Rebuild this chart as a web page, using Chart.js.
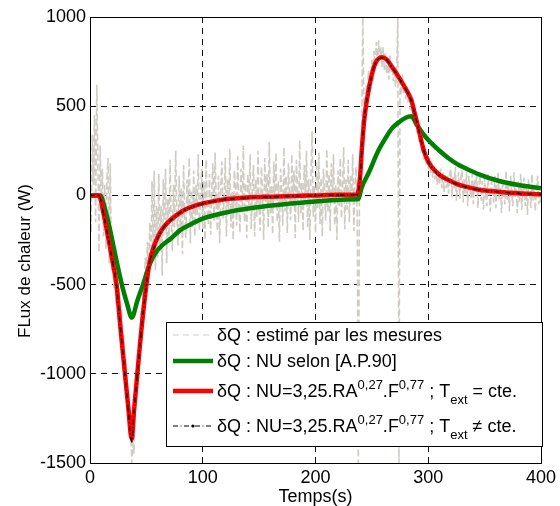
<!DOCTYPE html>
<html>
<head>
<meta charset="utf-8">
<script src="https://cdn.jsdelivr.net/npm/chart.js@4"></script>
<style>
  html, body { margin: 0; padding: 0; background: #fff; }
  #wrap { width: 560px; height: 506px; }
</style>
</head>
<body>
<div id="wrap"><canvas id="chrt" width="560" height="506"></canvas></div>
<script>
// mesures (1 echantillon / s)
const measQ = [
  120, -210, 340, 60, 450, -150, 620, 210, -320, 280,
  -40, 150, -230, 60, -300, 90, 210, -380, 180, -420,
  -250, -520, -330, -610, -450, -700, -520, -820, -640, -900,
  -780, -1050, -920, -1180, -1100, -1320, -1250, -1500, -1380, -1450,
  -1150, -980, -1050, -820, -900, -650, -720, -480, -560, -350,
  -420, -260, -500, -150, -380, 80, -310, 140, -420, -60,
  -350, 120, -280, -60, -450, 90, -200, 150, -380, -20,
  -260, 200, -150, -310, 60, -180, 250, -90, -280, 110,
  -210, 40, -330, 170, -120, -240, 90, -60, 210, -270,
  30, -180, 140, -230, 60, -110, 230, -200, -20, 150,
  -190, 80, -250, 200, -70, -160, 120, -220, 30, 180,
  -140, 240, -60, -200, 110, -270, 50, 190, -130, -20,
  210, -230, 90, -100, 260, -180, 20, -250, 140, 60,
  -170, 220, -40, -210, 150, -90, 280, -150, 70, -240,
  120, -60, 230, -190, 40, 170, -230, 90, -120, 250,
  -80, -200, 160, 30, -250, 210, -40, 120, -180, 300,
  -110, 60, -220, 190, -30, 240, -150, 80, -260, 150,
  20, -170, 270, -90, 110, -210, 180, -20, -140, 230,
  -60, 140, -240, 200, 40, -150, 310, -100, 70, -200,
  170, -30, 250, -180, 90, -250, 130, 360, -120, 50,
  -210, 190, -70, 240, -160, 100, -230, 150, 20, -140,
  260, -90, 120, -200, 180, -30, 230, -170, 60, -250,
  140, -60, 210, -130, 40, 270, -190, 90, -80, 200,
  -150, 110, -40, 230, -200, 60, 160, -110, -1500, 40,
  180, 350, 1000, 480, 390, 620, 520, 700, 580, 660,
  760, 640, 810, 700, 860, 720, 870, 760, 830, 720,
  830, 700, 800, 680, 760, 650, 790, 690, 740, 640,
  720, 610, 690, 1000, -1500, 640, 560, 680, 570, 620,
  540, 610, 520, 590, 480, 560, 450, 500, 420, 470,
  350, 420, 300, 350, 240, 300, 200, 260, 170, 220,
  150, 210, 120, 190, 100, 170, 90, 150, 60, 140,
  60, 150, 40, 130, 20, 120, 40, 110, 10, 120,
  150, -10, 110, 40, 160, -30, 90, 130, -20, 100,
  140, -40, 90, 10, 130, -60, 110, 30, -20, 120,
  -50, 90, 20, 130, -70, 60, 110, -30, 80, -80,
  100, 0, -60, 120, 20, -90, 80, 40, -40, 110,
  -70, 60, 130, -20, 50, -100, 90, 0, -50, 140,
  -30, 70, -90, 110, 20, -60, 130, -10, 40, -100,
  80, -40, 120, -80, 30, 100, -60, 50, -110, 90,
  10, -70, 120, -30, 60, -90, 40, 110, -50, 20,
  -60
];
const measT = measQ.map((q, i) => i);

// NU selon [A.P.90]
const greenT = [0, 9, 13, 17, 21, 25, 29, 33, 37, 42, 47, 53, 60, 72, 80, 90, 100, 124, 150, 175, 197,
  236, 238, 241, 247, 256, 262, 268, 274, 280, 285, 290, 296, 303, 310, 318, 325, 333, 345, 362, 380, 400];
const greenQ = [0, 0, -70, -170, -290, -410, -520, -610, -685, -590, -500, -385, -306, -240, -195, -160, -130, -91, -65, -48, -35,
  -22, -20, 45, 124, 254, 320, 377, 410, 435, 443, 395, 340, 292, 250, 208, 178, 152, 118, 82, 58, 40];

// NU=3,25.RA^0,27.F^0,77 ; Text = cte
const redT = [0, 8, 12, 16, 20, 23.5, 27, 31, 34, 37, 39, 42, 45, 50, 53, 57, 62, 67, 72, 78, 84, 92, 100, 110, 120,
  140, 160, 180, 200, 220, 237, 239.5, 241, 243.5, 248, 253, 259, 263, 267, 271, 276, 282, 285, 288, 291, 296, 300,
  303, 310, 318, 325, 333, 345, 362, 380, 400];
const redQ = [0, 0, -100, -230, -370, -500, -740, -1000, -1190, -1365, -1210, -1000, -790, -500, -370, -280, -210, -165,
  -135, -105, -80, -60, -45, -32, -22, -12, -7, -3, 0, 3, 5, 100, 250, 440, 620, 740, 775, 762, 728, 692, 640, 575, 535,
  460, 385, 254, 190, 160, 115, 86, 65, 49, 32, 21, 12, 6];

// NU=3,25.RA^0,27.F^0,77 ; Text != cte
const blackT = redT;
const blackQ = [0, 0, -105, -235, -372, -505, -745, -1005, -1200, -1380, -1215, -1005, -792, -502, -372, -290, -212, -166,
  -136, -106, -81, -61, -46, -33, -23, -13, -8, -4, -1, 2, 4, 95, 245, 438, 618, 738, 772, 760, 726, 690, 638, 572, 532,
  458, 382, 252, 188, 158, 113, 85, 64, 48, 31, 20, 11, 5];

const xTicks = [0, 100, 200, 300, 400];
const yTicks = [-1500, -1000, -500, 0, 500, 1000];

const FONT = '"Liberation Sans", Arial, sans-serif';
const GRIS = "rgb(208, 204, 196)";
const VERT = "rgb(0, 128, 0)";
const ROUGE = "rgb(255, 0, 0)";

Chart.defaults.font.family = FONT;
Chart.defaults.font.size = 18;
Chart.defaults.color = "#000";

function pts(ts, qs) {
  return ts.map((t, i) => ({ x: t, y: qs[i] }));
}

// legende avec exposants / indices
const legRows = [
  { kind: "meas", y: 335, parts: [["δQ : estimé par les mesures"]] },
  { kind: "green", y: 361, parts: [["δQ : NU selon [A.P.90]"]] },
  { kind: "red", y: 391, parts: [["δQ : NU=3,25.RA"], ["0,27", "sup"], [".F"], ["0,77", "sup"], [" ; T"], ["ext", "sub"], [" = cte."]] },
  { kind: "black", y: 426, parts: [["δQ : NU=3,25.RA"], ["0,27", "sup"], [".F"], ["0,77", "sup"], [" ; T"], ["ext", "sub"], [" ≠ cte."]] },
];

function drawRich(ctx, x, y, parts) {
  ctx.textBaseline = "middle";
  ctx.textAlign = "left";
  for (const [txt, kind] of parts) {
    ctx.font = (kind ? "13px " : "18px ") + FONT;
    let dy = 0;
    if (kind == "sup") dy = -7;
    if (kind == "sub") dy = 8;
    ctx.fillText(txt, x, y + 1 + dy);
    x += ctx.measureText(txt).width;
  }
}

function sample(ctx, kind, y) {
  const x0 = 173, x1 = 213;
  ctx.save();
  ctx.beginPath();
  ctx.moveTo(x0, y);
  ctx.lineTo(x1, y);
  if (kind == "meas") {
    ctx.strokeStyle = GRIS; ctx.lineWidth = 1; ctx.setLineDash([6, 4]);
  } else if (kind == "green") {
    ctx.strokeStyle = VERT; ctx.lineWidth = 4.5;
  } else if (kind == "red") {
    ctx.strokeStyle = ROUGE; ctx.lineWidth = 4.5;
  } else {
    ctx.strokeStyle = "#000"; ctx.lineWidth = 1.2; ctx.setLineDash([5, 2.5, 1, 2.5]);
  }
  ctx.stroke();
  if (kind == "black") {
    ctx.setLineDash([]);
    ctx.beginPath();
    ctx.arc((x0 + x1) / 2, y, 1.6, 0, Math.PI * 2);
    ctx.fillStyle = "#000";
    ctx.fill();
  }
  ctx.restore();
}

const boxPlugin = {
  id: "box",
  afterDraw(chart) {
    const { ctx, chartArea: a } = chart;
    ctx.save();
    // cadre
    ctx.strokeStyle = "#000";
    ctx.lineWidth = 1;
    ctx.setLineDash([]);
    ctx.strokeRect(Math.round(a.left) + 0.5, Math.round(a.top) + 0.5,
      Math.round(a.right - a.left), Math.round(a.bottom - a.top));

    // titre axe y
    ctx.save();
    ctx.translate(25, 261);
    ctx.rotate(-Math.PI / 2);
    ctx.font = "17px " + FONT;
    ctx.fillStyle = "#000";
    ctx.textAlign = "center";
    ctx.textBaseline = "middle";
    ctx.fillText("FLux de chaleur (W)", 0, 0);
    ctx.restore();

    // legende
    ctx.fillStyle = "#fff";
    ctx.fillRect(166.5, 322.5, 376, 124);
    ctx.strokeRect(166.5, 322.5, 376, 124);
    ctx.fillStyle = "#000";
    for (const r of legRows) {
      sample(ctx, r.kind, r.y);
      ctx.fillStyle = "#000";
      drawRich(ctx, 217, r.y, r.parts);
    }
    ctx.restore();
  },
};

const gridColor = (edges) => (c) =>
  c.tick && edges.includes(c.tick.value) ? "rgba(0,0,0,0)" : "#111";

new Chart(document.getElementById("chrt"), {
  type: "line",
  data: {
    datasets: [
      {
        label: "mesures",
        data: pts(measT, measQ),
        borderColor: GRIS,
        borderWidth: 1.6,
        borderDash: [7, 3],
        pointRadius: 0,
        order: 4,
      },
      {
        label: "A.P.90",
        data: pts(greenT, greenQ),
        borderColor: VERT,
        borderWidth: 4.5,
        cubicInterpolationMode: "monotone",
        pointRadius: 0,
        order: 3,
      },
      {
        label: "Text = cte",
        data: pts(redT, redQ),
        borderColor: ROUGE,
        borderWidth: 4.5,
        cubicInterpolationMode: "monotone",
        pointRadius: 0,
        order: 2,
      },
      {
        label: "Text != cte",
        data: pts(blackT, blackQ),
        borderColor: "#000",
        borderWidth: 1.2,
        borderDash: [5, 2.5, 1, 2.5],
        cubicInterpolationMode: "monotone",
        pointRadius: 1,
        pointBackgroundColor: "#000",
        pointBorderWidth: 0,
        order: 1,
      },
    ],
  },
  options: {
    responsive: false,
    animation: false,
    events: [],
    layout: { padding: { top: 17, right: 17, left: 0, bottom: 0 } },
    plugins: { legend: { display: false }, tooltip: { enabled: false } },
    scales: {
      x: {
        type: "linear",
        min: 0,
        max: 400,
        afterFit: (s) => { s.height = 43; },
        afterBuildTicks: (s) => { s.ticks = xTicks.map((v) => ({ value: v })); },
        ticks: { padding: 4, maxRotation: 0, callback: (v) => String(v) },
        grid: { drawTicks: false, lineWidth: 1, color: gridColor([0, 400]) },
        border: { display: false, dash: [6, 5] },
        title: { display: true, text: "Temps(s)", font: { size: 18, lineHeight: 1 }, padding: { top: 0, bottom: 0 } },
      },
      y: {
        min: -1500,
        max: 1000,
        afterFit: (s) => { s.width = 90; },
        afterBuildTicks: (s) => { s.ticks = yTicks.map((v) => ({ value: v })); },
        ticks: { padding: 4, callback: (v) => String(v) },
        grid: { drawTicks: false, lineWidth: 1, color: gridColor([-1500, 1000]) },
        border: { display: false, dash: [6, 5] },
      },
    },
  },
  plugins: [boxPlugin],
});
</script>
</body>
</html>
